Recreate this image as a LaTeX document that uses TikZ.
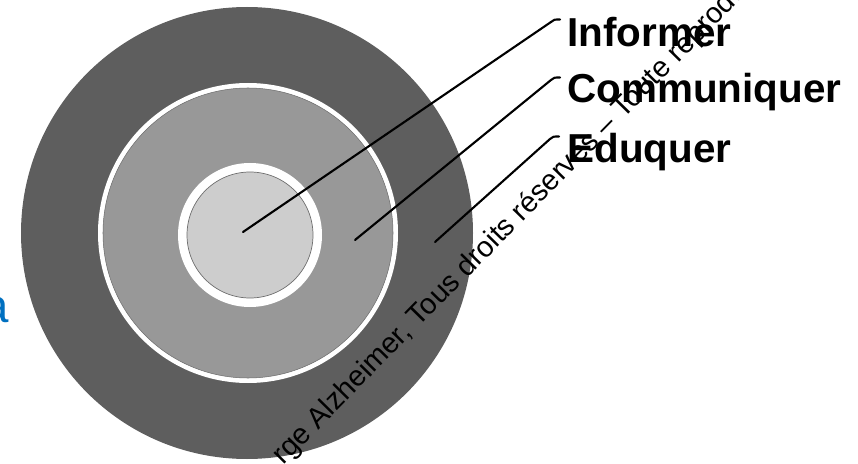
\documentclass[tikz,border=0pt]{standalone}
\usepackage{fontspec}
\setmainfont{Liberation Sans}
\definecolor{ringdark}{RGB}{94,94,94}
\definecolor{ringmid}{RGB}{152,152,152}
\definecolor{ringlight}{RGB}{205,205,205}
\definecolor{rim}{RGB}{110,110,110}
\definecolor{slideblue}{RGB}{0,112,192}
\tikzset{
	label/.style={anchor=base west, inner sep=0pt, font=\fontsize{23}{27}\selectfont\bfseries},
	leader/.style={line width=1.2pt, line cap=round},
	stamp/.style={anchor=base west, inner sep=0pt, rotate=45.5, font=\fontsize{16.5}{20}\selectfont}
}
\begin{document}
\begin{tikzpicture}[x=0.2mm, y=-0.2mm]
	\useasboundingbox (0,0) rectangle (858,464);
	\clip (0,0) rectangle (858,464);

	\fill [ringdark] (247,233) circle [radius=226];
	\fill [white] (248,233) circle [radius=150];
	\filldraw [fill=ringmid, draw=rim, line width=0.3pt] (248,233) circle [radius=145];
	\fill [white] (250,235) circle [radius=72];
	\filldraw [fill=ringlight, draw=rim, line width=0.4pt] (250,235) circle [radius=63];

	\node [label] (informer) at (567,47) {Informer};
	\node [label] (communiquer) at (567,103) {Communiquer};
	\node [label] (eduquer) at (567,163) {Eduquer};

	\coordinate (inf-in) at (243,232);
	\coordinate (com-in) at (355,240);
	\coordinate (edu-in) at (435,242);
	\coordinate (inf-bend) at (551,22);
	\coordinate (com-bend) at (551,80);
	\coordinate (edu-bend) at (550,139);
	\coordinate (inf-out) at (560,19.5);
	\coordinate (com-out) at (560,77.5);
	\coordinate (edu-out) at (559,136.5);

	\draw [leader] (inf-in) -- (inf-bend)
		.. controls (554,19.5) .. (inf-out);
	\draw [leader] (com-in) -- (com-bend)
		.. controls (554,77.5) .. (com-out);
	\draw [leader] (edu-in) -- (edu-bend)
		.. controls (553,136.5) .. (edu-out);

	\node [stamp] (notice) at (283,466)
		{rge Alzheimer, Tous droits réservés – Toute reproduction interdite};
	\node [anchor=base east, inner sep=0pt, text=slideblue,
		font=\fontsize{27}{30}\selectfont] (accent) at (9,322) {à};
\end{tikzpicture}
\end{document}
